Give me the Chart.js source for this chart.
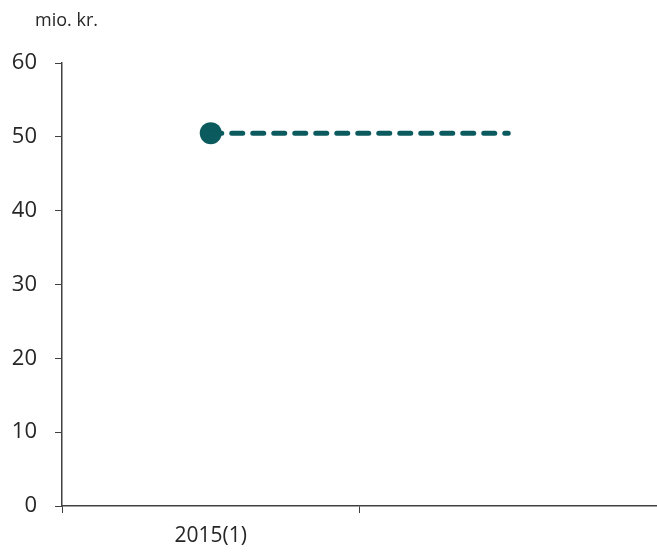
<!DOCTYPE html>
<html>
<head>
<meta charset="utf-8">
<script src="https://cdn.jsdelivr.net/npm/chart.js@4/dist/chart.umd.min.js"></script>
<style>
  html, body { margin: 0; padding: 0; background: #fff; overflow: hidden; }
  canvas { display: block; }
</style>
</head>
<body>
<!-- a little wider than the window: the x axis keeps ~11px right padding, so the plot runs to the window edge -->
<canvas id="chart" width="668" height="554"></canvas>
<script>
const categories = ['2015(1)', ''];
const pointValues = [50.5, null];
const dashValues = [50.5, 50.5];
const yTicks = [0, 10, 20, 30, 40, 50, 60];
const unitLabel = 'mio. kr.';

const teal = '#0b5a5e';
const textColor = '#262626';
const axisColor = '#404040';
const fontFamily = "'Open Sans', 'Noto Sans', sans-serif";

// unit text above the y axis
const unitPlugin = {
    id: 'unitLabel',
    afterDraw(chart) {
        const ctx = chart.ctx;
        ctx.save();
        ctx.fillStyle = textColor;
        ctx.font = '18px ' + fontFamily;
        ctx.textBaseline = 'middle';
        ctx.textAlign = 'left';
        ctx.fillText(unitLabel, 35, 21);
        ctx.restore();
    }
};

const chart = new Chart(document.getElementById('chart'), {
    type: 'line',
    data: {
        labels: categories,
        datasets: [
            {
                label: 'dash',
                data: dashValues,
                borderColor: teal,
                borderWidth: 5,
                borderDash: [11, 10],
                borderCapStyle: 'round',
                pointRadius: 0,
                fill: false
            },
            {
                label: 'point',
                data: pointValues,
                borderColor: teal,
                backgroundColor: teal,
                showLine: false,
                pointRadius: 11,
                pointHoverRadius: 11,
                pointBorderWidth: 0
            }
        ]
    },
    options: {
        responsive: false,
        animation: false,
        layout: { padding: { top: 63, right: 0, left: 0, bottom: 0 } },
        plugins: {
            legend: { display: false },
            tooltip: { enabled: false }
        },
        scales: {
            x: {
                offset: true,
                grid: {
                    offset: true,
                    drawOnChartArea: false,
                    drawTicks: true,
                    tickLength: 7,
                    color: axisColor
                },
                border: { color: axisColor, width: 1.5 },
                ticks: {
                    color: textColor,
                    font: { size: 21, family: fontFamily },
                    padding: 10,
                    maxRotation: 0
                },
                afterFit(scale) {
                    scale.height = 48;
                }
            },
            y: {
                min: 0,
                max: 60,
                afterBuildTicks(scale) {
                    scale.ticks = yTicks.map(v => ({ value: v }));
                },
                grid: {
                    drawOnChartArea: false,
                    drawTicks: true,
                    tickLength: 7,
                    color: axisColor
                },
                border: { color: axisColor, width: 1.5 },
                ticks: {
                    color: textColor,
                    font: { size: 22, family: fontFamily },
                    padding: 18
                },
                afterFit(scale) { scale.width = 62; }
            }
        }
    },
    plugins: [unitPlugin]
});
</script>
</body>
</html>
